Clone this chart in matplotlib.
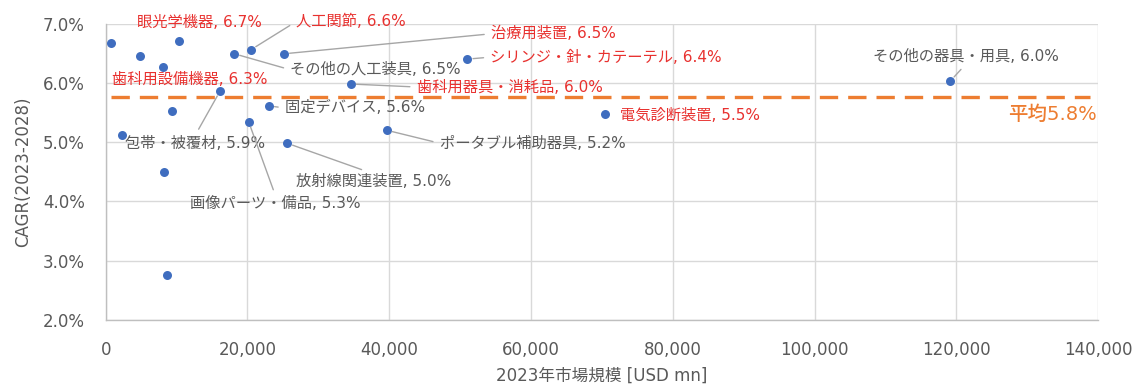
import matplotlib
matplotlib.use("Agg")
import matplotlib.pyplot as plt
from matplotlib.ticker import FuncFormatter

plt.rcParams["font.family"] = ["DejaVu Sans", "Noto Sans CJK JP"]

# Market size 2023 [USD mn] and CAGR 2023-2028 [%] per device segment
names = [
    "眼光学機器", "人工関節", "治療用装置", "シリンジ・針・カテーテル",
    "その他の人工装具", "歯科用器具・消耗品", "歯科用設備機器", "固定デバイス",
    "包帯・被覆材", "画像パーツ・備品", "放射線関連装置", "ポータブル補助器具",
    "電気診断装置", "その他の器具・用具",
]
market_size = [10300, 20510, 25170, 51040, 18150, 34580, 8045, 23050,
               16130, 20180, 25630, 39660, 70510, 119160]
cagr = [6.70, 6.56, 6.49, 6.40, 6.49, 5.98, 6.26, 5.61,
        5.86, 5.34, 4.98, 5.20, 5.47, 6.03]
highlight = [True, True, True, True, False, True, True, False,
             False, False, False, False, True, False]

# Segments shown without a label
other_size = [700, 4880, 9400, 2260, 8270, 8610]
other_cagr = [6.67, 6.45, 5.53, 5.12, 4.50, 2.76]

average_cagr = 5.76

x_ticks = [0, 20000, 40000, 60000, 80000, 100000, 120000, 140000]
y_ticks = [2.0, 3.0, 4.0, 5.0, 6.0, 7.0]

# Label placement: offset of the text anchor from its point (pixels),
# horizontal alignment, and where the leader line attaches (None = no leader)
label_layout = [
    (21, 19, "center", None),
    (45, 28, "left", (0, 0.5)),
    (207, 20, "left", (0, 0.5)),
    (23, 2, "left", (0, 0.5)),
    (56, -16, "left", (0, 0.5)),
    (66, -3, "left", (0, 0.5)),
    (27, -12, "center", None),
    (16, -2, "left", (0, 0.5)),
    (-25, -52, "center", (0.5, 1)),
    (27, -82, "center", (0.5, 1)),
    (86, -38, "center", (0.5, 1)),
    (53, -13, "left", (0, 0.5)),
    (15, -1, "left", None),
    (16, 25, "center", (0.5, 0)),
]

RED = "#E8312F"
GRAY_TEXT = "#595959"
DOT = "#3F6DBF"
ORANGE = "#ED7D31"

fig = plt.figure(figsize=(11.34, 3.86), dpi=100)
ax = fig.add_axes([0.0932, 0.171, 0.8751, 0.768])

ax.set_xlim(0, 140000)
ax.set_ylim(2.0, 7.0)
ax.set_xticks(x_ticks)
ax.set_yticks(y_ticks)
ax.xaxis.set_major_formatter(FuncFormatter(lambda v, p: f"{v:,.0f}"))
ax.yaxis.set_major_formatter(FuncFormatter(lambda v, p: f"{v:.1f}%"))
ax.tick_params(axis="both", length=0, labelsize=12, labelcolor=GRAY_TEXT)
ax.tick_params(axis="x", pad=15)
ax.tick_params(axis="y", pad=15)
ax.grid(True, color="#D9D9D9", linewidth=1.0)
ax.set_axisbelow(True)
for side in ("top", "right"):
    ax.spines[side].set_visible(False)
for side in ("left", "bottom"):
    ax.spines[side].set_color("#BFBFBF")
    ax.spines[side].set_linewidth(1.0)

ax.set_xlabel("2023年市場規模 [USD mn]", fontsize=12, color=GRAY_TEXT, labelpad=6)
ax.set_ylabel("CAGR(2023-2028)", fontsize=12, color=GRAY_TEXT, labelpad=8)

# Average line
ax.axhline(average_cagr, xmin=0.005, xmax=0.992, color=ORANGE, linewidth=2.4,
           dashes=(5.5, 3.0), zorder=2)
ax.text(139800, average_cagr - 0.13, f"平均{average_cagr:.1f}%", color=ORANGE,
        fontsize=14, ha="right", va="top", fontweight="medium")

ax.scatter(other_size, other_cagr, s=42, color=DOT, zorder=3, linewidths=0)
ax.scatter(market_size, cagr, s=42, color=DOT, zorder=3, linewidths=0)

for name, xv, yv, hl, (dx, dy, ha, rel) in zip(names, market_size, cagr,
                                               highlight, label_layout):
    kwargs = {}
    if rel is not None:
        kwargs["arrowprops"] = dict(arrowstyle="-", color="#A6A6A6", lw=1.0,
                                    shrinkA=3, shrinkB=4, relpos=rel)
    ax.annotate(f"{name}, {yv:.1f}%", xy=(xv, yv), xytext=(dx, dy),
                textcoords="offset pixels", ha=ha, va="center", fontsize=11,
                color=RED if hl else GRAY_TEXT, zorder=4, **kwargs)

fig.savefig("out.png", dpi=100)
